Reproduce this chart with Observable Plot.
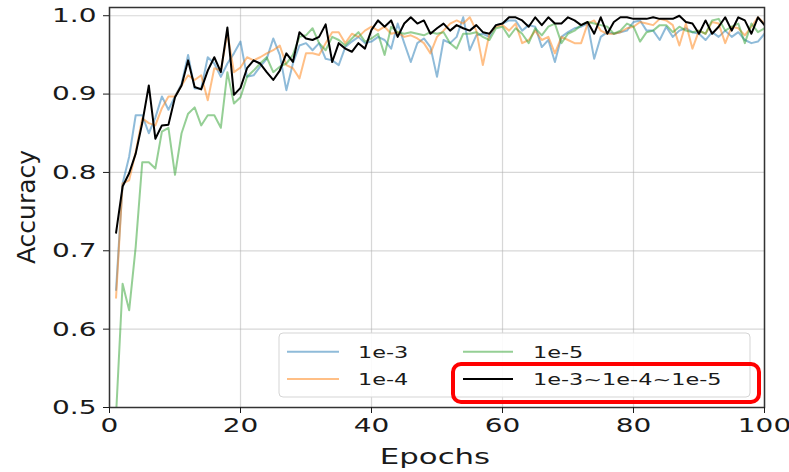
<!DOCTYPE html>
<html><head><meta charset="utf-8">
<script src="https://cdn.jsdelivr.net/npm/d3@7"></script>
<script src="https://cdn.jsdelivr.net/npm/@observablehq/plot@0.6"></script>
<style>body{margin:0;background:#fff} svg{display:block}</style>
</head><body><div id="chart"></div>
<script>
const epochs = [1,2,3,4,5,6,7,8,9,10,11,12,13,14,15,16,17,18,19,20,21,22,23,24,25,26,27,28,29,30,31,32,33,34,35,36,37,38,39,40,41,42,43,44,45,46,47,48,49,50,51,52,53,54,55,56,57,58,59,60,61,62,63,64,65,66,67,68,69,70,71,72,73,74,75,76,77,78,79,80,81,82,83,84,85,86,87,88,89,90,91,92,93,94,95,96,97,98,99,100];

const lr1e3 = [0.650,0.786,0.820,0.873,0.873,0.850,0.870,0.897,0.880,0.897, 0.913,0.950,0.907,0.907,0.947,0.939,0.922,0.939,0.952,0.967, 0.922,0.924,0.935,0.945,0.971,0.950,0.905,0.939,0.962,0.965, 0.956,0.965,0.945,0.943,0.937,0.960,0.967,0.973,0.965,0.967, 0.973,0.969,0.958,0.990,0.965,0.941,0.965,0.971,0.960,0.922, 0.969,0.965,0.973,0.998,0.956,0.975,0.977,0.973,0.988,0.990, 0.994,0.994,0.981,0.988,0.986,0.960,0.969,0.941,0.973,0.979, 0.984,0.986,0.990,0.945,0.973,0.979,0.977,0.979,0.981,0.992, 0.994,0.981,0.981,0.969,0.986,0.973,0.981,0.984,0.979,0.977, 0.969,0.979,0.973,0.981,0.973,0.979,0.969,0.965,0.967,0.977];

const lr1e4 = [0.640,0.786,0.790,0.826,0.869,0.863,0.860,0.882,0.897,0.897, 0.911,0.924,0.918,0.924,0.892,0.933,0.930,0.978,0.928,0.934, 0.947,0.943,0.947,0.952,0.956,0.962,0.937,0.933,0.920,0.952, 0.952,0.950,0.965,0.979,0.979,0.965,0.977,0.973,0.981,0.986, 0.981,0.986,0.977,0.979,0.973,0.975,0.971,0.965,0.952,0.973, 0.981,0.990,0.994,0.990,0.998,0.981,0.937,0.977,0.986,0.988, 0.981,0.990,0.965,0.969,0.981,0.969,0.973,0.952,0.973,0.969, 0.965,0.965,0.990,0.994,0.981,0.977,0.977,0.979,0.984,0.986, 0.992,0.990,0.988,0.996,0.994,0.988,0.962,0.990,0.958,0.981, 0.977,0.992,0.990,0.965,0.986,0.984,0.975,0.986,0.998,0.990];

const lr1e5 = [0.490,0.658,0.624,0.705,0.813,0.813,0.805,0.852,0.857,0.797, 0.850,0.875,0.883,0.860,0.873,0.873,0.857,0.928,0.888,0.896, 0.922,0.930,0.939,0.947,0.928,0.935,0.939,0.950,0.973,0.975, 0.984,0.965,0.956,0.973,0.969,0.962,0.971,0.979,0.967,0.971, 0.977,0.950,0.986,0.979,0.977,0.979,0.977,0.975,0.979,0.977, 0.979,0.965,0.958,0.977,0.977,0.979,0.973,0.969,0.984,0.986, 0.973,0.984,0.977,0.965,0.984,0.975,0.986,0.990,0.965,0.977, 0.981,0.988,0.992,0.990,0.988,0.986,0.977,0.981,0.990,0.986, 0.967,0.979,0.981,0.988,0.988,0.979,0.986,0.981,0.979,0.981, 0.977,0.994,0.996,0.981,0.986,0.990,0.965,0.990,0.979,0.984];

const lrSched = [0.723,0.782,0.799,0.824,0.863,0.911,0.843,0.860,0.861,0.896, 0.911,0.943,0.909,0.906,0.930,0.947,0.928,0.985,0.899,0.908, 0.933,0.943,0.939,0.928,0.918,0.930,0.952,0.941,0.979,0.971, 0.969,0.973,0.989,0.941,0.965,0.958,0.954,0.965,0.958,0.982, 0.994,0.986,0.994,0.973,0.990,0.998,0.990,0.994,0.977,0.984, 0.990,0.981,0.988,0.984,0.981,0.988,0.979,0.977,0.988,0.990, 0.998,0.998,0.994,0.986,0.998,0.988,0.998,0.990,0.990,0.998, 0.994,0.988,0.992,0.977,0.998,0.977,0.992,0.998,0.998,0.996, 0.996,0.996,0.998,0.996,0.996,0.996,1.000,0.992,0.990,0.977, 0.994,0.977,0.986,0.998,0.981,0.998,0.994,0.977,0.998,0.988];

const seriesNames = ["1e-3", "1e-4", "1e-5", "1e-3~1e-4~1e-5"];
const seriesValues = [lr1e3, lr1e4, lr1e5, lrSched];
const seriesColors = ["#1f77b4", "#ff7f0e", "#2ca02c", "#000000"];
const seriesOpacity = [0.5, 0.5, 0.5, 1];

const xTicks = [0, 20, 40, 60, 80, 100];
const yTicks = [0.5, 0.6, 0.7, 0.8, 0.9, 1.0];

const FONT = "DejaVu Sans, sans-serif";
const SX = 1.4; // horizontal stretch of the reference text

const plot = Plot.plot({
  width: 789, height: 472,
  marginLeft: 109, marginRight: 25, marginTop: 7, marginBottom: 65,
  style: {fontFamily: FONT, color: "#1a1a1a", background: "#fff"},
  x: {domain: [0, 100]},
  y: {domain: [0.5, 1.0105]},
  marks: [
    Plot.gridX(xTicks, {stroke: "#b0b0b0", strokeOpacity: 0.5, strokeWidth: 1.2}),
    Plot.gridY(yTicks, {stroke: "#b0b0b0", strokeOpacity: 0.5, strokeWidth: 1.2}),
    ...seriesValues.map((vals, k) => Plot.line(epochs, {
      x: d => d, y: (d, i) => vals[i],
      stroke: seriesColors[k], strokeOpacity: seriesOpacity[k],
      strokeWidth: 2, clip: true
    })),
    Plot.frame({stroke: "#333", strokeWidth: 1.5}),
    Plot.axisX(xTicks, {tickSize: 6, tickPadding: 4, fontSize: 20, label: null, tickFormat: d => String(d)}),
    Plot.axisY(yTicks, {tickSize: 6, tickPadding: 7, fontSize: 20, label: null, tickFormat: d3.format(".1f")})
  ]
});
document.getElementById("chart").appendChild(plot);

const svg = d3.select(plot);
// stretch tick label text horizontally like the reference
svg.selectAll('g[aria-label$="tick label"] text').each(function() {
  const t = this.getAttribute("transform") || "";
  const x = +(this.getAttribute("x") || 0);
  this.setAttribute("transform", `${t} translate(${x},0) scale(${SX},1) translate(${-x},0)`);
});

function stretchedText(parent, x, y, str, size, anchor) {
  return parent.append("text")
    .attr("transform", `translate(${x},${y}) scale(${SX},1)`)
    .attr("text-anchor", anchor)
    .attr("font-family", FONT)
    .attr("font-size", size)
    .attr("fill", "#1a1a1a")
    .text(str);
}

// axis titles
stretchedText(svg, 435, 464, "Epochs", 22, "middle");
svg.append("text")
  .attr("transform", "translate(35,207) rotate(-90)")
  .attr("text-anchor", "middle")
  .attr("font-family", FONT).attr("font-size", 25).attr("fill", "#1a1a1a")
  .text("Accuracy");

// legend
const lg = svg.append("g");
lg.append("rect").attr("x", 279).attr("y", 333).attr("width", 471).attr("height", 64)
  .attr("rx", 4).attr("fill", "#fff").attr("fill-opacity", 0.9).attr("stroke", "#d5d5d5").attr("stroke-width", 1);
const cols = [[287, 339, 358], [463, 513, 533]];
const rowsY = [351.7, 379];
const order = [0, 1, 2, 3]; // column-major: col0 rows 0,1 ; col1 rows 0,1
order.forEach(k => {
  const c = cols[Math.floor(k / 2)], r = rowsY[k % 2];
  lg.append("line").attr("x1", c[0]).attr("x2", c[1]).attr("y1", r).attr("y2", r)
    .attr("stroke", seriesColors[k]).attr("stroke-opacity", seriesOpacity[k]).attr("stroke-width", 2);
  stretchedText(lg, c[2], r + 5.8, seriesNames[k], 16, "start");
});
lg.append("rect").attr("x", 453).attr("y", 364).attr("width", 306).attr("height", 38)
  .attr("rx", 8).attr("fill", "none").attr("stroke", "#ff0000").attr("stroke-width", 4);
</script>
</body></html>
